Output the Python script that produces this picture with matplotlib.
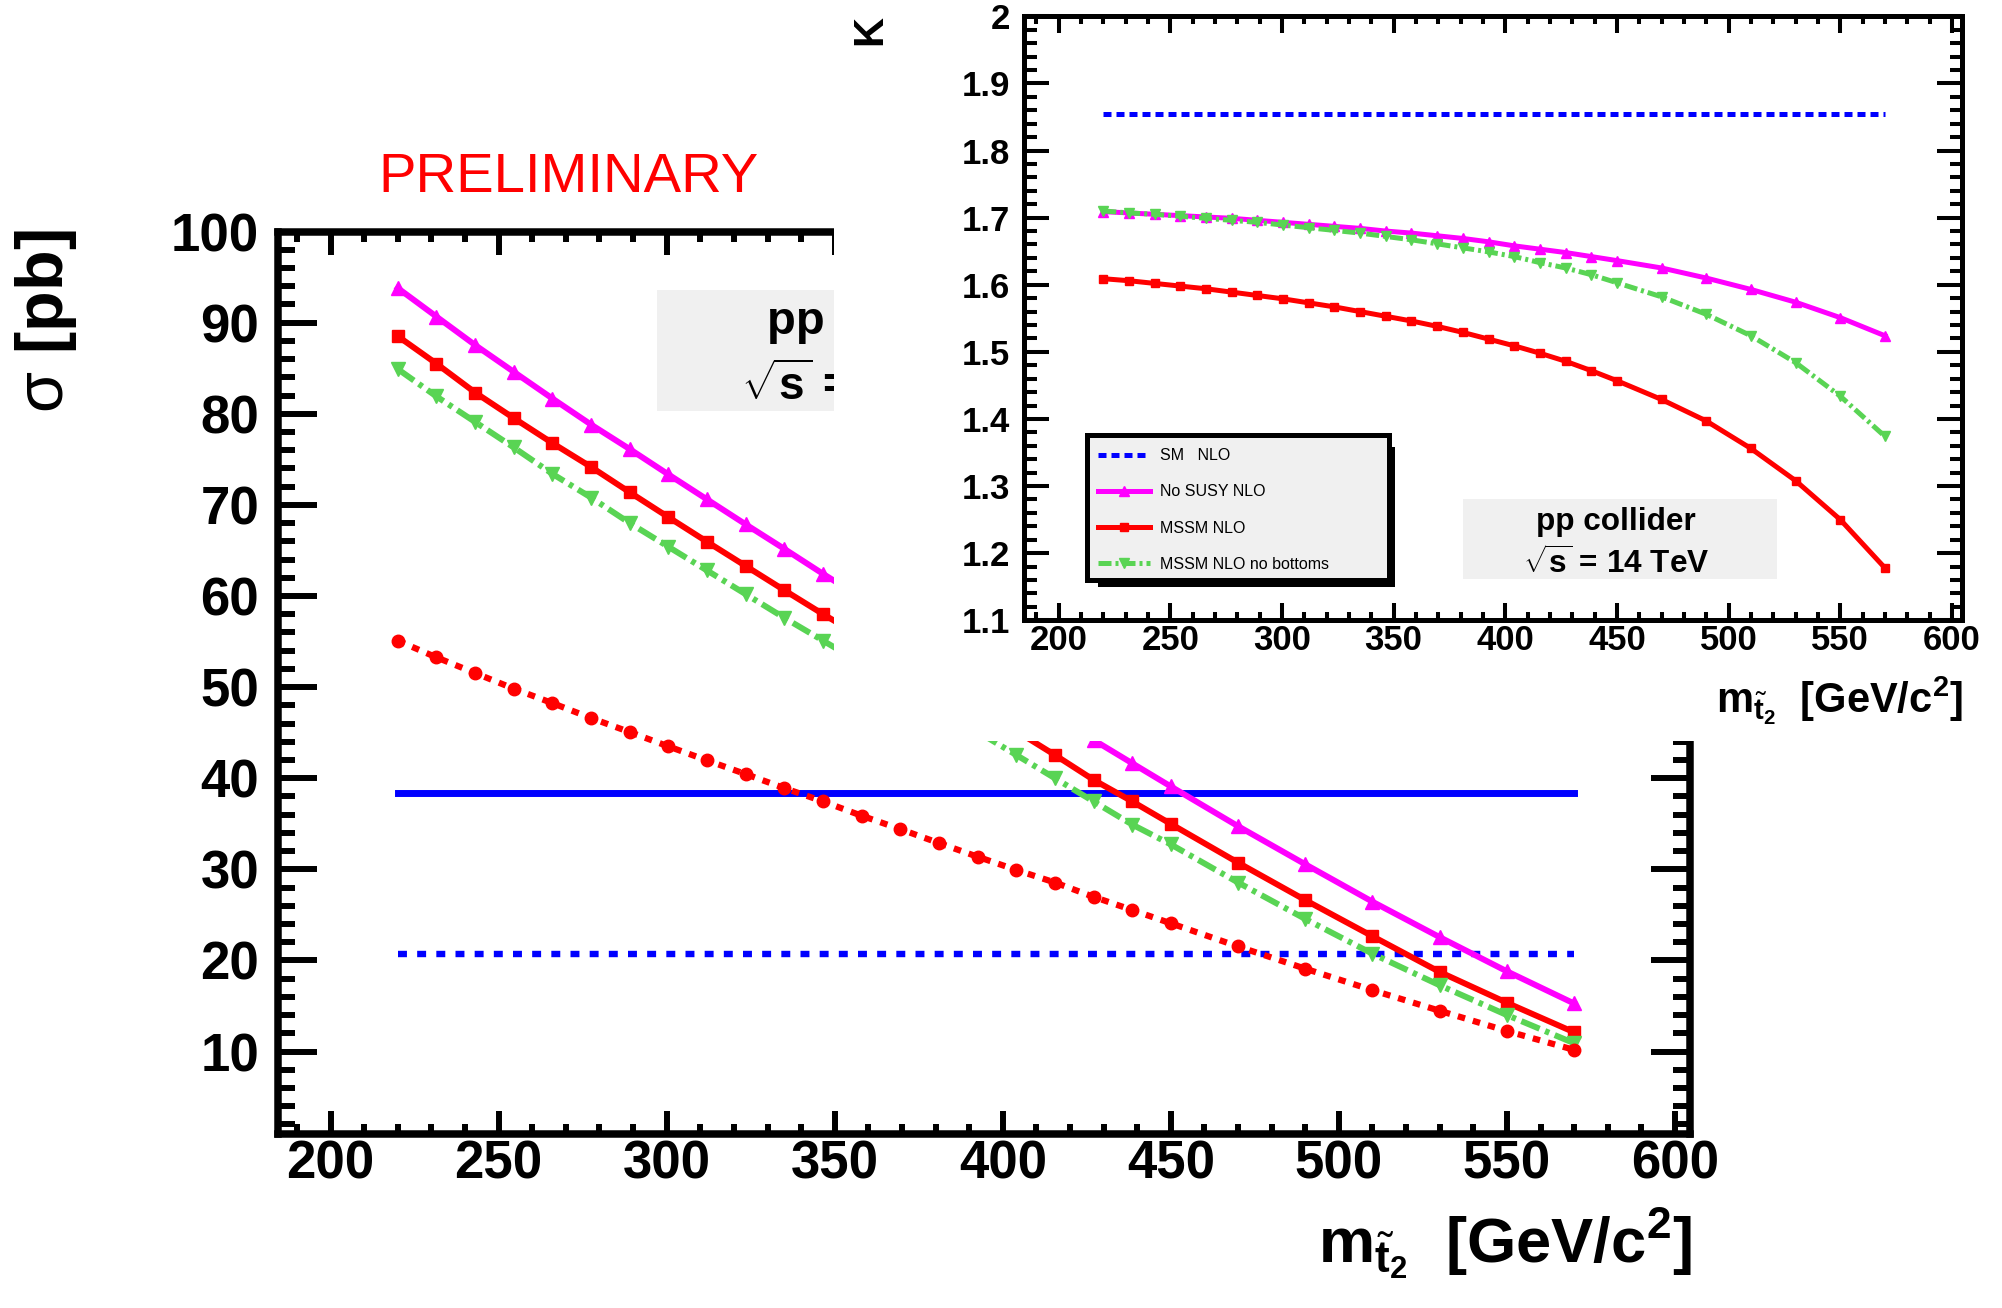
import matplotlib
matplotlib.use('Agg')
import matplotlib.pyplot as plt
from matplotlib.patches import Rectangle
from matplotlib.ticker import MultipleLocator

plt.rcParams['font.family'] = ['Liberation Sans', 'DejaVu Sans']
plt.rcParams['mathtext.fontset'] = 'custom'
plt.rcParams['mathtext.rm'] = 'Liberation Sans'
plt.rcParams['mathtext.bf'] = 'Liberation Sans:bold'
plt.rcParams['mathtext.it'] = 'Liberation Sans:italic'
plt.rcParams['mathtext.default'] = 'regular'

# stop mass points [GeV/c^2]
mass = [220, 231.5, 243, 254.5, 266, 277.5, 289, 300.5, 312, 323.5, 335, 346.5,
        358, 369.5, 381, 392.5, 404, 415.5, 427, 438.5, 450, 470, 490, 510, 530, 550, 570]

# cross sections [pb]
sm_lo = 20.65
sm_nlo = 38.35
nosusy_nlo = [93.79, 90.66, 87.54, 84.60, 81.67, 78.81, 76.12, 73.34, 70.60, 67.86, 65.17, 62.43,
              59.8, 57.2, 54.6, 52.0, 49.4, 46.8, 44.2, 41.64, 39.09, 34.73, 30.55, 26.44, 22.55, 18.80, 15.27]
mssm_nlo = [88.51, 85.50, 82.33, 79.52, 76.78, 74.16, 71.38, 68.65, 65.95, 63.29, 60.63, 58.01,
            55.50, 52.92, 50.27, 47.68, 45.18, 42.55, 39.82, 37.45, 34.98, 30.73, 26.62, 22.65, 18.73, 15.35, 12.11]
mssm_nob = [84.9, 81.9, 79.1, 76.3, 73.4, 70.8, 68.0, 65.4, 62.8, 60.2, 57.6, 55.1,
            52.6, 50.1, 47.6, 45.1, 42.55, 40.0, 37.45, 34.91, 32.73, 28.55, 24.55, 20.73, 17.27, 14.0, 10.91]
mssm_lo = [55.09, 53.26, 51.54, 49.82, 48.24, 46.60, 45.06, 43.49, 41.95, 40.45, 38.91, 37.45,
           35.88, 34.41, 32.88, 31.38, 29.93, 28.55, 26.98, 25.53, 24.07, 21.53, 19.09, 16.73, 14.47, 12.25, 10.18]

# K factors
k_sm = 1.855
k_nosusy = [1.709, 1.707, 1.705, 1.703, 1.701, 1.699, 1.696, 1.693, 1.690, 1.687, 1.684, 1.680,
            1.677, 1.673, 1.669, 1.664, 1.658, 1.653, 1.648, 1.642, 1.636, 1.625, 1.610, 1.593, 1.574, 1.551, 1.524]
k_mssm = [1.609, 1.606, 1.602, 1.598, 1.594, 1.589, 1.584, 1.579, 1.573, 1.567, 1.560, 1.553,
          1.546, 1.538, 1.529, 1.519, 1.509, 1.498, 1.486, 1.472, 1.457, 1.429, 1.397, 1.356, 1.308, 1.250, 1.178]
k_nob = [1.710, 1.707, 1.705, 1.702, 1.699, 1.696, 1.693, 1.689, 1.685, 1.681, 1.677, 1.672,
         1.667, 1.661, 1.655, 1.649, 1.642, 1.633, 1.625, 1.615, 1.603, 1.582, 1.556, 1.524, 1.484, 1.434, 1.374]

legend_labels = ['SM   NLO', 'No SUSY NLO', 'MSSM NLO', 'MSSM NLO no bottoms']
k_ticks = [1.1, 1.2, 1.3, 1.4, 1.5, 1.6, 1.7, 1.8, 1.9, 2.0]
k_ticklabels = ['1.1', '1.2', '1.3', '1.4', '1.5', '1.6', '1.7', '1.8', '1.9', '2']

BLUE = '#0000ff'
MAG = '#ff00ff'
RED = '#ff0000'
GREEN = '#59d454'
BOX = '#f0f0f0'

fig = plt.figure(figsize=(20.02, 13.08), dpi=100)

# ---------------- main pad
ax = fig.add_axes([0.1391, 0.1334, 0.7051, 0.6896])
ax.set_xlim(184.5, 604.5)
ax.set_ylim(1, 100)

ends = [mass[0], mass[-1]]
ax.plot(ends, [sm_nlo, sm_nlo], color=BLUE, lw=5)
ax.plot(ends, [sm_lo, sm_lo], color=BLUE, lw=4.6, dashes=(1.4, 1.6))
ax.plot(mass, nosusy_nlo, color=MAG, lw=4.3, marker='^', ms=10)
ax.plot(mass, mssm_nlo, color=RED, lw=4.3, marker='s', ms=8.5)
ax.plot(mass, mssm_nob, color=GREEN, lw=4.3, dashes=(3.3, 1, 0.75, 1), marker='v', ms=10)
ax.plot(mass, mssm_lo, color=RED, lw=4.5, dashes=(1.2, 1.3), marker='o', ms=9)

# collider box (its right part is hidden under the inset pad)
ax.add_patch(Rectangle((0.268, 0.801), 0.334, 0.134, transform=ax.transAxes,
                       facecolor=BOX, edgecolor='none', zorder=1))
ax.text(0.431, 0.900, 'pp collider', transform=ax.transAxes, ha='center', va='center',
        fontsize=34, fontweight='bold', zorder=3)
ax.text(0.424, 0.828, r'$\sqrt{\mathbf{s}}$ = 14 TeV', transform=ax.transAxes, ha='center',
        va='center', fontsize=33, fontweight='bold', zorder=3)

ax.set_xticks(range(200, 601, 50))
ax.xaxis.set_minor_locator(MultipleLocator(10))
ax.set_yticks(range(10, 101, 10))
ax.yaxis.set_minor_locator(MultipleLocator(2))
ax.tick_params(which='both', direction='in', top=True, right=True, labelsize=38, width=4.3)
ax.tick_params(axis='x', which='major', length=16.5, pad=4.5)
ax.tick_params(axis='x', which='minor', length=7.2)
ax.tick_params(axis='y', which='major', length=28, pad=14)
ax.tick_params(axis='y', which='minor', length=12.5)
for lab in ax.get_xticklabels() + ax.get_yticklabels():
    lab.set_fontweight('bold')
for sp in ax.spines.values():
    sp.set_linewidth(5.4)

# white pad behind the inset
fig.add_artist(Rectangle((0.4166, 0.4335), 0.5834, 0.5665, transform=fig.transFigure,
                         facecolor='white', edgecolor='none', zorder=1))

# ---------------- inset: K factor
ax2 = fig.add_axes([0.5115, 0.5258, 0.4685, 0.4617], zorder=2)
ax2.set_xlim(184.5, 604.5)
ax2.set_ylim(1.1, 2.0)

l_sm, = ax2.plot(ends, [k_sm, k_sm], color=BLUE, lw=3.6, dashes=(1.6, 1.0))
l_ns, = ax2.plot(mass, k_nosusy, color=MAG, lw=3.6, marker='^', ms=6.5)
l_ms, = ax2.plot(mass, k_mssm, color=RED, lw=3.6, marker='s', ms=6)
l_nb, = ax2.plot(mass, k_nob, color=GREEN, lw=3.6, dashes=(2.6, 0.8, 0.6, 0.8), marker='v', ms=6.5)

ax2.add_patch(Rectangle((0.468, 0.068), 0.335, 0.133, transform=ax2.transAxes,
                        facecolor=BOX, edgecolor='none', zorder=1))
ax2.text(0.631, 0.163, 'pp collider', transform=ax2.transAxes, ha='center', va='center',
         fontsize=22.7, fontweight='bold', zorder=3)
ax2.text(0.631, 0.092, r'$\sqrt{\mathbf{s}}$ = 14 TeV', transform=ax2.transAxes, ha='center',
         va='center', fontsize=22.7, fontweight='bold', zorder=3)

# legend frame with ROOT-like shadow
ax2.add_patch(Rectangle((0.3902, 0.0546), 0.0053, 0.2328, transform=ax2.transAxes,
                        facecolor='black', edgecolor='none', zorder=4))
ax2.add_patch(Rectangle((0.0786, 0.0546), 0.3169, 0.0077, transform=ax2.transAxes,
                        facecolor='black', edgecolor='none', zorder=4))
ax2.add_patch(Rectangle((0.0670, 0.0667), 0.3216, 0.2404, transform=ax2.transAxes,
                        facecolor=BOX, edgecolor='black', lw=3.6, zorder=4.5))
leg = ax2.legend([l_sm, l_ns, l_ms, l_nb], legend_labels, loc='upper left',
                 bbox_to_anchor=(0.0789, 0.285), frameon=False, fontsize=11.5,
                 handlelength=3.25, handletextpad=0.6, labelspacing=1.33,
                 borderpad=0, borderaxespad=0, numpoints=1)
leg.set_zorder(5)

ax2.set_xticks(range(200, 601, 50))
ax2.xaxis.set_minor_locator(MultipleLocator(10))
ax2.set_yticks(k_ticks, k_ticklabels)
ax2.yaxis.set_minor_locator(MultipleLocator(0.02))
ax2.tick_params(which='both', direction='in', top=True, right=True, labelsize=25, width=2.9)
ax2.tick_params(axis='x', which='major', length=12, pad=3)
ax2.tick_params(axis='x', which='minor', length=6)
ax2.tick_params(axis='y', which='major', length=18, pad=10)
ax2.tick_params(axis='y', which='minor', length=9)
for lab in ax2.get_xticklabels() + ax2.get_yticklabels():
    lab.set_fontweight('bold')
for sp in ax2.spines.values():
    sp.set_linewidth(3.6)

# ---------------- titles and axis labels
xlab = r'$\mathbf{m}_{\tilde{\mathbf{t}}_{\mathbf{2}}}\ \ \mathbf{[GeV/c}^{\mathbf{2}}\mathbf{]}$'
fig.text(0.845, 0.0344, xlab, ha='right', va='baseline', fontsize=45.5)
fig.text(0.9805, 0.455, xlab, ha='right', va='baseline', fontsize=30)
fig.text(0.023, 0.825, r'$\sigma\ \mathbf{[pb]}$', rotation=90, ha='center', va='top', fontsize=48)
fig.text(0.4346, 0.9885, 'K', rotation=90, ha='center', va='top', fontsize=30, fontweight='bold')
fig.text(0.284, 0.864, 'PRELIMINARY', color=RED, ha='center', va='center', fontsize=40.5)

fig.savefig('out.png', dpi=100)
